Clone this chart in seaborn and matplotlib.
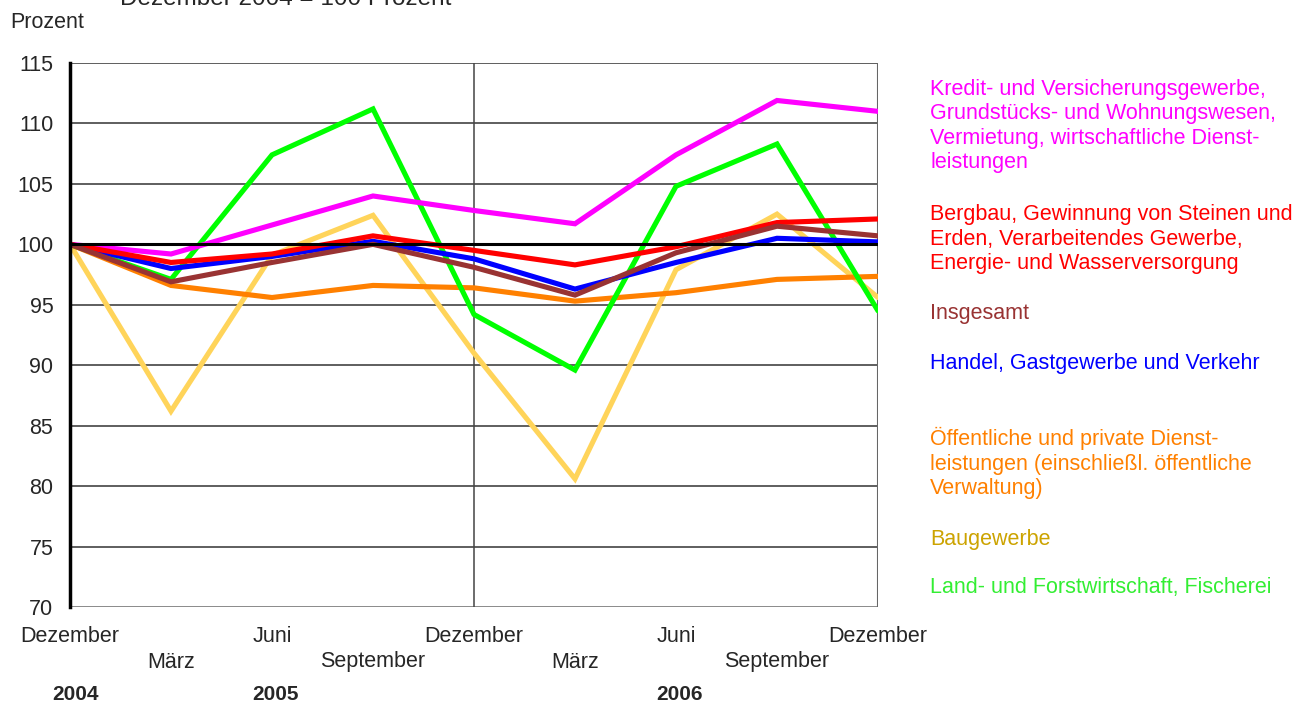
import pandas as pd
import matplotlib
matplotlib.use("Agg")
import matplotlib.pyplot as plt
import matplotlib.transforms as mtransforms
import seaborn as sns

# Quartale Dezember 2004 bis Dezember 2006
monate = ["Dezember", "März", "Juni", "September", "Dezember",
          "März", "Juni", "September", "Dezember"]
jahre = ["2004", "2005", "2006"]
jahr_pos = [0, 2, 6]

kredit = [100, 99.2, 101.6, 104.0, 102.8, 101.7, 107.4, 111.9, 111.0]
bergbau = [100, 98.5, 99.2, 100.7, 99.5, 98.3, 99.8, 101.8, 102.1]
insgesamt = [100, 96.9, 98.5, 100.0, 98.1, 95.8, 99.3, 101.5, 100.7]
handel = [100, 98.0, 99.0, 100.25, 98.8, 96.3, 98.5, 100.5, 100.2]
oeffentlich = [100, 96.6, 95.6, 96.6, 96.4, 95.3, 96.0, 97.1, 97.35]
bau = [100, 86.2, 99.1, 102.4, 91.0, 80.6, 97.9, 102.5, 95.6]
land = [100, 97.1, 107.4, 111.2, 94.2, 89.6, 104.8, 108.3, 94.5]

reihen = {
    "Baugewerbe": bau,
    "Öffentliche": oeffentlich,
    "Land": land,
    "Kredit": kredit,
    "Handel": handel,
    "Bergbau": bergbau,
    "Insgesamt": insgesamt,
}
farben = {
    "Baugewerbe": "#FFD45A",
    "Öffentliche": "#FF8000",
    "Land": "#00FF00",
    "Kredit": "#FF00FF",
    "Handel": "#0000FF",
    "Bergbau": "#FF0000",
    "Insgesamt": "#993333",
}

# Legendentexte rechts neben dem Diagramm (Text, Farbe, y-Mitte in Pixel)
legende = [
    ("Kredit- und Versicherungsgewerbe,\nGrundstücks- und Wohnungswesen,\n"
     "Vermietung, wirtschaftliche Dienst-\nleistungen", "#FF00FF", 126),
    ("Bergbau, Gewinnung von Steinen und\nErden, Verarbeitendes Gewerbe,\n"
     "Energie- und Wasserversorgung", "#FF0000", 239),
    ("Insgesamt", "#993333", 314),
    ("Handel, Gastgewerbe und Verkehr", "#0000FF", 364),
    ("Öffentliche und private Dienst-\nleistungen (einschließl. öffentliche\n"
     "Verwaltung)", "#FF8000", 463),
    ("Baugewerbe", "#CCA300", 539),
    ("Land- und Forstwirtschaft, Fischerei", "#33EE33", 588),
]

rows = []
for name, werte in reihen.items():
    for i, w in enumerate(werte):
        rows.append({"pos": i, "wert": w, "bereich": name})
df = pd.DataFrame(rows)

sns.set_style("white")
plt.rcParams["font.family"] = ["Liberation Sans", "DejaVu Sans"]

W, H = 1316, 704
fig = plt.figure(figsize=(W / 100, H / 100), dpi=100)
ax = fig.add_axes([70 / W, 1 - 607 / H, (878 - 70) / W, (607 - 63) / H])

# Gitternetz
for y in range(75, 116, 5):
    ax.axhline(y, color="#333333", lw=1.1, zorder=1)
ax.axhline(70, color="#808080", lw=2, zorder=1)
ax.axvline(4, color="#444444", lw=1.1, zorder=1)
ax.axvline(8, color="#666666", lw=1.5, zorder=1)

sns.lineplot(data=df, x="pos", y="wert", hue="bereich",
             hue_order=list(reihen.keys()), palette=farben,
             linewidth=3.7, legend=False, ax=ax, zorder=3)
for line in ax.get_lines():
    line.set_solid_joinstyle("miter")

ax.axhline(100, color="black", lw=2.2, zorder=4)

ax.set_xlim(0, 8)
ax.set_ylim(70, 115)
ax.set_yticks(range(70, 116, 5))
ax.set_xticks(range(9))
ax.set_xticklabels([])
ax.set_xlabel("")
ax.set_ylabel("")
for s in ["top", "right", "bottom"]:
    ax.spines[s].set_visible(False)
ax.spines["left"].set_color("black")
ax.spines["left"].set_linewidth(2.5)
ax.spines["left"].set_zorder(5)
ax.tick_params(axis="y", length=8, width=1, color="#444444", labelsize=15.5, pad=4)
ax.tick_params(axis="x", length=10, width=1, color="#444444", direction="out")

trans = mtransforms.blended_transform_factory(ax.transData, fig.transFigure)
for i, m in enumerate(monate):
    ypix = 637 if i % 2 == 0 else 662
    ax.text(i, 1 - ypix / H, m, transform=trans, ha="center", va="center",
            fontsize=15.5)
for p, j in zip(jahr_pos, jahre):
    ax.text(p + (0.05 if p == 0 else 0.03), 1 - 694 / H, j, transform=trans,
            ha="center", va="center", fontsize=15, fontweight="bold")

fig.text(10 / W, 1 - 22 / H, "Prozent", ha="left", va="center", fontsize=15.5)
fig.text(120 / W, 1 - 5 / H, "Dezember 2004 = 100 Prozent", ha="left",
         va="baseline", fontsize=17.5)

for text, farbe, ymid in legende:
    fig.text(930 / W, 1 - ymid / H, text, ha="left", va="center", color=farbe,
             fontsize=15.5, linespacing=1.22)

fig.savefig("out.png", dpi=100)
